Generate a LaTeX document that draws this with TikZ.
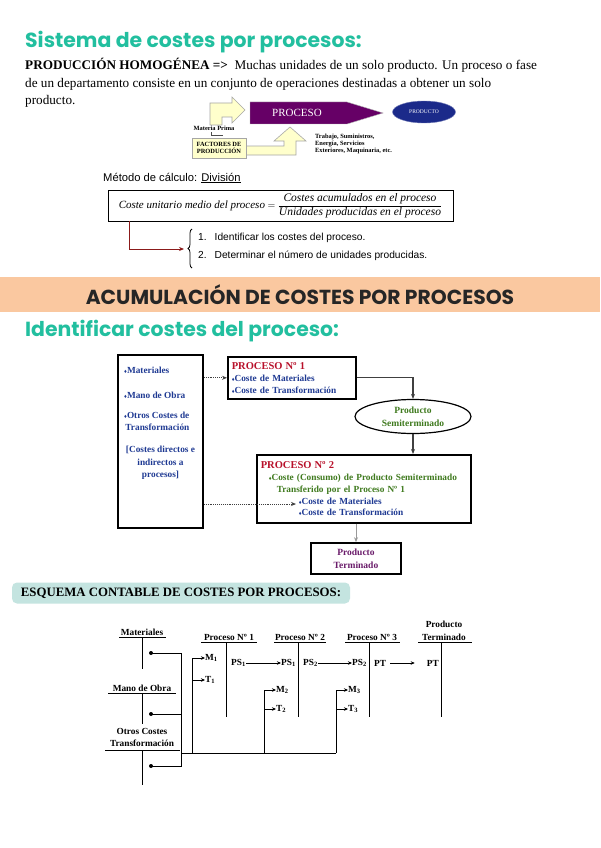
\documentclass[tikz,border=0pt]{standalone}
\usepackage{fontspec}
\setmainfont{Liberation Serif}
\setsansfont{Liberation Sans}
\newfontfamily\headfont{Poppins}
\usepackage{xcolor}
\usetikzlibrary{arrows.meta,positioning,shapes.geometric,calc,decorations.pathreplacing}

\definecolor{headteal}{HTML}{22BF9F}
\definecolor{bandpeach}{HTML}{FAC8A0}
\definecolor{procpurple}{HTML}{660066}
\definecolor{prodnavy}{HTML}{1B2A8A}
\definecolor{factyellow}{HTML}{FFFFCC}
\definecolor{arrowred}{HTML}{8B1A1A}
\definecolor{procred}{HTML}{B8102A}
\definecolor{costblue}{HTML}{1F3A93}
\definecolor{semigreen}{HTML}{3F7A1E}
\definecolor{ptpurple}{HTML}{6A1B6A}
\definecolor{esqteal}{HTML}{C4E4E0}

\newcommand{\diam}{{\fontsize{5.5}{6}\selectfont ♦}}

\tikzset{
  heading/.style={anchor=west, inner sep=0pt, text=headteal, font=\headfont\bfseries\fontsize{20.4}{22}\selectfont},
  bodytext/.style={anchor=north west, inner sep=0pt, align=left, font=\fontsize{13.2}{17.5}\selectfont},
  tinybold/.style={inner sep=0pt, align=left, font=\bfseries\fontsize{6.4}{7}\selectfont},
  yelarrow/.style={draw=gray!70, fill=factyellow, line width=0.6pt},
  sanslbl/.style={anchor=west, inner sep=0pt, font=\sffamily\fontsize{11.2}{13}\selectfont},
  formbox/.style={draw=black, line width=0.9pt, minimum width=345, minimum height=31, inner sep=0pt},
  redarrow/.style={-{Stealth[length=5pt,width=4pt]}, draw=arrowred, line width=1pt},
  bandtitle/.style={fill=bandpeach, minimum width=600, minimum height=35, inner sep=0pt, text=black!85, font=\headfont\bfseries\fontsize{20.3}{22}\selectfont},
  flowbox/.style={draw=black, line width=1.6pt, fill=white, inner sep=4pt, align=left, font=\bfseries\fontsize{9.3}{11.8}\selectfont},
  flowtxt/.style={inner sep=0pt, text=costblue, font=\bfseries\fontsize{9.3}{12.5}\selectfont},
  flowarrow/.style={-{Stealth[length=5pt,width=4pt]}, draw=black!75, line width=1.2pt},
  dotarrow/.style={-{Stealth[length=5pt,width=4pt]}, draw=black!75, line width=0.9pt, densely dotted},
  lightarrow/.style={-{Stealth[length=5pt,width=4pt]}, draw=black!40, line width=1pt},
  esqlabel/.style={fill=esqteal, rounded corners=5pt, minimum width=338, minimum height=21, inner sep=0pt, font=\bfseries\fontsize{12.8}{14}\selectfont},
  ttitle/.style={inner sep=0pt, align=center, font=\bfseries\fontsize{9.3}{12.5}\selectfont},
  tlbl/.style={inner sep=0pt, font=\bfseries\fontsize{9.3}{11}\selectfont},
  tline/.style={line width=0.9pt},
  tarrow/.style={-{Stealth[length=4pt,width=3.5pt]}, line width=0.9pt},
  tdot/.style={circle, fill=black, inner sep=0pt, minimum size=4pt}
}

\begin{document}
\begin{tikzpicture}[x=1pt, y=-1pt]
\useasboundingbox[fill=white] (0,0) rectangle (600,848);

% --- sistema de costes
\node[heading] (title) at (25,42) {Sistema de costes por procesos:};
\node[bodytext] (intro) at (25,58) {\textbf{PRODUCCIÓN HOMOGÉNEA =>}\ \ Muchas unidades de un solo producto. Un proceso o fase\\de un departamento consiste en un conjunto de operaciones destinadas a obtener un solo\\producto.};

\draw[yelarrow] (210,125) -- (210,103) -- (232,103) -- (232,97) -- (245,110) -- (232,123) -- (232,117) -- (222,117) -- (222,125) -- cycle;
\draw[yelarrow] (245,146) -- (284,146) -- (284,141) -- (274,141) -- (290,127) -- (306,141) -- (296,141) -- (296,155) -- (245,155) -- cycle;
\draw[fill=procpurple, draw=gray!60] (250,102) -- (347,102) -- (383,113) -- (347,124) -- (250,124) -- cycle;
\node[inner sep=0pt, text=white, font=\fontsize{11}{12}\selectfont] (procname) at (297,113) {PROCESO};
\node[ellipse, fill=prodnavy, draw=prodnavy!60, minimum width=63, minimum height=22, inner sep=0pt, text=white, font=\fontsize{5.5}{6}\selectfont] (prodo) at (424,112) {PRODUCTO};
\node[tinybold] (mprima) at (214,128.5) {Materia Prima};
\draw[line width=0.6pt, black!70] (211,132) -- (211,135) -- (223,135);
\node[tinybold, draw=gray!70, fill=factyellow, minimum width=54, minimum height=20, align=center] (factores) at (219,148) {FACTORES DE\\PRODUCCIÓN};
\node[tinybold, anchor=north west] (trabajo) at (315,133.5) {Trabajo, Suministros,\\Energía, Servicios\\Exteriores, Maquinaria, etc.};

\node[sanslbl] (metodo) at (103,178) {Método de cálculo: \underline{División}};
\node[formbox] (formula) at (280.5,205.5) {{\itshape\fontsize{11}{12}\selectfont Coste unitario medio del proceso} $=$ $\displaystyle\frac{\textit{\fontsize{11.5}{12}\selectfont Costes acumulados en el proceso}}{\textit{\fontsize{11.5}{12}\selectfont Unidades producidas en el proceso}}$};
\coordinate (bracetip) at (184,249);
\draw[redarrow] ($(formula.south west)+(22,0)$) |- (bracetip);
\draw[line width=0.8pt, decorate, decoration={brace, amplitude=4pt}] (192,268) -- (192,229);
\node[sanslbl, font=\sffamily\fontsize{10.2}{12}\selectfont] (paso1) at (198,238) {1.\hspace{8pt}Identificar los costes del proceso.};
\node[sanslbl, font=\sffamily\fontsize{10.2}{12}\selectfont] (paso2) at (198,256) {2.\hspace{8pt}Determinar el número de unidades producidas.};

% --- acumulacion
\node[bandtitle] (band) at (300,294.5) {ACUMULACIÓN DE COSTES POR PROCESOS};
\node[heading] (ident) at (25,331) {Identificar costes del proceso:};

\node[draw=black, line width=1.6pt, minimum width=85, minimum height=173] (inputs) at (160.5,441.5) {};
\node[flowtxt, anchor=west] (imat) at (124,370) {\diam Materiales};
\node[flowtxt, anchor=west] (imano) at (124,395) {\diam Mano de Obra};
\node[flowtxt, anchor=north west, align=right] (iotros) at (124,411.5) {\diam Otros Costes de\\Transformación};
\node[flowtxt, anchor=north, align=center] (idir) at (160.5,446) {[Costes directos e\\indirectos a\\procesos]};

\node[flowbox, anchor=north west, text width=120, minimum height=42] (proc1) at (227,356) {\textcolor{procred}{\fontsize{10.5}{12}\selectfont PROCESO Nº 1}\\
\textcolor{costblue}{\diam Coste de Materiales}\\
\textcolor{costblue}{\diam Coste de Transformación}};
\node[ellipse, draw=black, line width=1.2pt, minimum width=116, minimum height=34, inner sep=0pt, align=center, text=semigreen, font=\bfseries\fontsize{9.5}{13}\selectfont] (semi) at (413,416.5) {Producto\\Semiterminado};
\node[flowbox, anchor=north west, text width=206, minimum height=68] (proc2) at (256,454) {\textcolor{procred}{\fontsize{10.5}{12}\selectfont PROCESO Nº 2}\\
\hspace*{8pt}\textcolor{semigreen}{\diam Coste (Consumo) de Producto Semiterminado}\\
\hspace*{16pt}\textcolor{semigreen}{Transferido por el Proceso Nº 1}\\
\hspace*{38pt}\textcolor{costblue}{\diam Coste de Materiales}\\
\hspace*{38pt}\textcolor{costblue}{\diam Coste de Transformación}};
\coordinate (p2mat) at (296,504);
\node[flowbox, minimum width=90, minimum height=31, align=center, text=ptpurple, font=\bfseries\fontsize{9.5}{13}\selectfont] (ptbox) at (356,558.5) {Producto\\Terminado};

\draw[dotarrow] (inputs.east |- proc1.west) -- (proc1.west);
\draw[flowarrow] (proc1.east) -| (semi.north);
\draw[flowarrow] (semi.south) -- (semi.south |- proc2.north);
\draw[dotarrow] (inputs.east |- p2mat) -- (p2mat);
\draw[lightarrow] (ptbox.north |- proc2.south) -- (ptbox.north);

% --- esquema contable
\node[esqlabel] (esquema) at (181,593) {ESQUEMA CONTABLE DE COSTES POR PROCESOS:};

\node[ttitle] (tmat) at (142,632) {Materiales};
\node[ttitle] (tmano) at (142,688) {Mano de Obra};
\node[ttitle] (totros) at (142,737.5) {Otros Costes\\Transformación};
\node[ttitle] (tp1) at (229,637) {Proceso Nº 1};
\node[ttitle] (tp2) at (300,637) {Proceso Nº 2};
\node[ttitle] (tp3) at (372,637) {Proceso Nº 3};
\node[ttitle] (tpt) at (444,631) {Producto\\Terminado};

\draw[tline] (119,637.5) -- (166,637.5) (142,637.5) -- (142,669);
\draw[tline] (108,693) -- (176,693) (142,693) -- (142,724);
\draw[tline] (105,750) -- (180,750) (142,750) -- (142,785);
\draw[tline] (201,642) -- (257,642) (226,642) -- (226,717);
\draw[tline] (274,642) -- (326,642) (298,642) -- (298,717);
\draw[tline] (345,642) -- (400,642) (369,642) -- (369,717);
\draw[tline] (418,642) -- (472,642) (441,642) -- (441,717);

\node[tdot] (dmat) at (151,653) {};
\node[tdot] (dmano) at (151,714) {};
\node[tdot] (dotros) at (151,766) {};
\coordinate (jn) at (181,753);
\coordinate (b1) at (192,753);
\coordinate (b2) at (264,753);
\coordinate (b3) at (336,753);
\draw[tline] (dmat.center) -| (jn);
\draw[tline] (dotros.center) -| (jn);
\draw[tline] (dmano.center) -- (dmano.center -| jn);
\draw[tline] (jn) -- (b3);

\node[tlbl, anchor=west] (m1) at (205,658) {M\textsubscript{1}};
\node[tlbl, anchor=west] (t1) at (205,680) {T\textsubscript{1}};
\node[tlbl, anchor=west] (m2) at (276,690) {M\textsubscript{2}};
\node[tlbl, anchor=west] (t2) at (276,709) {T\textsubscript{2}};
\node[tlbl, anchor=west] (m3) at (348,690) {M\textsubscript{3}};
\node[tlbl, anchor=west] (t3) at (348,709) {T\textsubscript{3}};
\draw[tline] (b1) -- (b1 |- m1);
\draw[tline] (b2) -- (b2 |- m2);
\draw[tline] (b3) -- (b3 |- m3);
\draw[tarrow] (b1 |- m1) -- (m1.west);
\draw[tarrow] (b1 |- t1) -- (t1.west);
\draw[tarrow] (b2 |- m2) -- (m2.west);
\draw[tarrow] (b2 |- t2) -- (t2.west);
\draw[tarrow] (b3 |- m3) -- (m3.west);
\draw[tarrow] (b3 |- t3) -- (t3.west);

\node[tlbl, anchor=west] (ps1a) at (231,663) {PS\textsubscript{1}};
\node[tlbl, anchor=east] (ps1b) at (296,663) {PS\textsubscript{1}};
\node[tlbl, anchor=west] (ps2a) at (303,663) {PS\textsubscript{2}};
\node[tlbl, anchor=east] (ps2b) at (367,663) {PS\textsubscript{2}};
\node[tlbl, anchor=west] (pta) at (374,663) {PT};
\node[tlbl, anchor=east] (ptb) at (439,663) {PT};
\draw[tarrow] (ps1a.east) -- (ps1b.west);
\draw[tarrow] (ps2a.east) -- (ps2b.west);
\draw[tarrow] ([xshift=4pt]pta.east) -- ([xshift=-12pt]ptb.west);
\end{tikzpicture}
\end{document}
